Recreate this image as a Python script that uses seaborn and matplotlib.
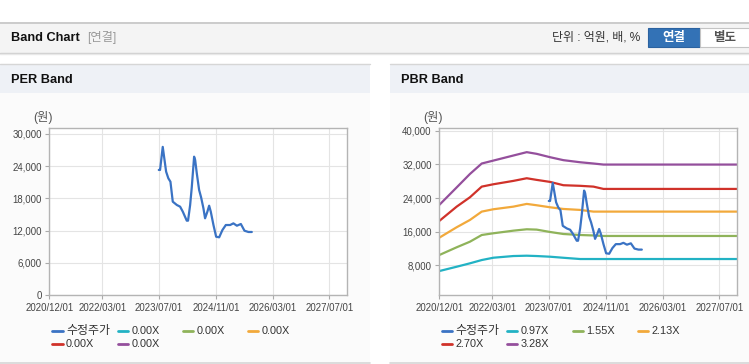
import numpy as np
import pandas as pd
import matplotlib
matplotlib.use("Agg")
import matplotlib.pyplot as plt
import matplotlib.dates as mdates
from matplotlib.patches import Rectangle
from matplotlib.lines import Line2D
import seaborn as sns

W, H = 749, 364

# 수정주가
price_dates = ["2023-06-28", "2023-07-09", "2023-08-01", "2023-08-30", "2023-09-18",
               "2023-10-06", "2023-10-26", "2023-11-30", "2023-12-28", "2024-01-20",
               "2024-02-23", "2024-03-05", "2024-03-23", "2024-04-06", "2024-04-26",
               "2024-05-05", "2024-05-19", "2024-06-08", "2024-06-25", "2024-07-15",
               "2024-07-29", "2024-08-18", "2024-09-02", "2024-09-16", "2024-10-09",
               "2024-11-01", "2024-11-27", "2024-12-25", "2025-01-23", "2025-03-01",
               "2025-03-29", "2025-04-28", "2025-06-01", "2025-07-02", "2025-08-05",
               "2025-09-03"]
price_values = [23300, 23300, 27600, 22980, 21740,
                21110, 17390, 16770, 16460, 15530,
                13850, 13850, 16770, 20070, 25770,
                25160, 22680, 19570, 18200, 16150,
                14290, 15530, 16640, 15530, 13040,
                10860, 10750, 12110, 13040, 13040,
                13350, 12910, 13230, 11980, 11740,
                11740]

# PBR band lines
band_dates = ["2020-12-01", "2021-04-29", "2021-08-21", "2021-11-30", "2022-03-10",
              "2022-08-28", "2022-12-21", "2023-03-16", "2023-07-09", "2023-10-31",
              "2024-03-23", "2024-07-15", "2024-10-09", "2027-12-01"]
band_097 = [6640, 7670, 8480, 9260, 9810, 10210, 10290, 10210, 10050, 9800, 9500, 9500, 9500, 9500]
band_155 = [10450, 12290, 13620, 15210, 15620, 16240, 16570, 16490, 15930, 15450, 15210, 15100, 14980, 14980]
band_213 = [14570, 17050, 18790, 20770, 21330, 21950, 22600, 22280, 21800, 21400, 21170, 20770, 20770, 20770]
band_270 = [18550, 21950, 24180, 26710, 27270, 28070, 28700, 28310, 27830, 27040, 26900, 26710, 26160, 26160]
band_328 = [22360, 26520, 29720, 32200, 32900, 34100, 34900, 34500, 33700, 33000, 32500, 32200, 31950, 31950]

per_labels = ["수정주가", "0.00X", "0.00X", "0.00X", "0.00X", "0.00X"]
pbr_labels = ["수정주가", "0.97X", "1.55X", "2.13X", "2.70X", "3.28X"]
colors = ["#3a73c4", "#22b2c4", "#8fb35a", "#f2a93b", "#d0322a", "#944f9c"]

x_ticks = ["2020-12-01", "2022-03-01", "2023-07-01", "2024-11-01", "2026-03-01", "2027-07-01"]
per_yticks = [0, 6000, 12000, 18000, 24000, 30000]
pbr_yticks = [8000, 16000, 24000, 32000, 40000]

price = pd.DataFrame({"date": pd.to_datetime(price_dates), "value": price_values})
bands = pd.DataFrame({"date": pd.to_datetime(band_dates), "0.97X": band_097, "1.55X": band_155,
                      "2.13X": band_213, "2.70X": band_270, "3.28X": band_328})

sns.set_theme(style="white")
plt.rcParams['font.family'] = ['Liberation Sans', 'Noto Sans CJK KR']

fig = plt.figure(figsize=(W / 100, H / 100), dpi=100)
fig.patch.set_facecolor("white")


def fx(x):
    return x / W


def fy(y):
    return 1 - y / H


def rect(x0, y0, x1, y1, **kw):
    kw.setdefault("zorder", -5)
    fig.patches.append(Rectangle((fx(x0), fy(y1)), (x1 - x0) / W, (y1 - y0) / H,
                                 transform=fig.transFigure, **kw))


def hline(x0, x1, y, color, lw=1.0):
    fig.add_artist(Line2D([fx(x0), fx(x1)], [fy(y), fy(y)], color=color, lw=lw,
                          transform=fig.transFigure, zorder=-4))


# top header bar
rect(0, 22.5, W, 53, facecolor="#f4f4f4", edgecolor="none")
hline(0, W, 22.5, "#c4c4c4", 1.2)
hline(0, W, 53.2, "#cfcfcf", 1.0)
hline(0, W, 54.2, "#e8e8e8", 1.0)
fig.text(fx(11), fy(38), "Band Chart", fontsize=9.2, fontweight="bold", color="#111",
         va="center", ha="left")
fig.text(fx(87), fy(38), "[연결]", fontsize=8.8, color="#999", va="center", ha="left")
fig.text(fx(552), fy(38), "단위 : 억원, 배, %", fontsize=8.6, color="#333", va="center", ha="left")
rect(648, 28.5, 700, 47, facecolor="#3372b6", edgecolor="#2b62a0", lw=0.8, zorder=-3)
rect(700, 28.5, 752, 47, facecolor="white", edgecolor="#c4c4c4", lw=0.8, zorder=-3)
fig.text(fx(674), fy(38), "연결", fontsize=9, fontweight="bold", color="white", va="center", ha="center")
fig.text(fx(725), fy(38), "별도", fontsize=9, fontweight="bold", color="#555", va="center", ha="center")

panels = [(0, 370, "PER Band"), (390, W, "PBR Band")]
for x0, x1, title in panels:
    rect(x0, 64, x1, 92.7, facecolor="#eef1f6", edgecolor="none")
    rect(x0, 92.7, x1, 362.5, facecolor="#fbfbfb", edgecolor="none")
    hline(x0, x1, 64, "#d6d6d6", 1.0)
    hline(x0, x1, 362.5, "#d6d6d6", 1.2)
    fig.text(fx(x0 + 11), fy(80), title, fontsize=9.2, fontweight="bold", color="#111",
             va="center", ha="left")

xt = pd.to_datetime(x_ticks)
xlim = (pd.Timestamp("2020-12-01"), pd.Timestamp("2027-12-01"))


def style_axes(ax, yticks, ylim):
    ax.set_facecolor("white")
    ax.set_xlim(xlim)
    ax.set_ylim(ylim)
    ax.set_xticks(xt)
    ax.xaxis.set_major_formatter(mdates.DateFormatter("%Y/%m/%d"))
    ax.set_yticks(yticks)
    ax.set_yticklabels([f"{v:,}" for v in yticks])
    ax.grid(True, color="#e4e4e4", lw=0.8)
    ax.set_axisbelow(True)
    for s in ax.spines.values():
        s.set_color("#b4b4b4")
        s.set_linewidth(1.0)
    ax.tick_params(axis="both", labelsize=6.9, colors="#aaaaaa", labelcolor="#444",
                   length=3, width=0.8, pad=2.5, bottom=True, left=True)
    ax.set_xlabel("")
    ax.set_ylabel("")


def draw_legend(x_base, labels):
    for i, (lab, col) in enumerate(zip(labels, colors)):
        r, c = divmod(i, 4)
        x = x_base + c * 65.3
        y = 330.7 + r * 13.4
        fig.add_artist(Line2D([fx(x), fx(x + 10)], [fy(y), fy(y)], color=col, lw=2,
                              transform=fig.transFigure))
        size = 8.6 if lab == "수정주가" else 7.8
        fig.text(fx(x + 13.5), fy(y), lab, fontsize=size, color="#333", va="center", ha="left")


# PER Band
ax1 = fig.add_axes([fx(49.3), fy(295), (347.3 - 49.3) / W, (295 - 128.3) / H])
sns.lineplot(data=price, x="date", y="value", ax=ax1, color=colors[0], linewidth=1.6)
style_axes(ax1, per_yticks, (0, 31060))
fig.text(fx(43), fy(117), "(원)", fontsize=8.8, color="#555", va="center", ha="center")
draw_legend(52.5, per_labels)

# PBR Band
ax2 = fig.add_axes([fx(439.3), fy(295), (737.3 - 439.3) / W, (295 - 128.3) / H])
for lab, col in zip(pbr_labels[1:], colors[1:]):
    sns.lineplot(data=bands, x="date", y=lab, ax=ax2, color=col, linewidth=1.6)
sns.lineplot(data=price, x="date", y="value", ax=ax2, color=colors[0], linewidth=1.6)
style_axes(ax2, pbr_yticks, (950, 40570))
fig.text(fx(433), fy(117), "(원)", fontsize=8.8, color="#555", va="center", ha="center")
draw_legend(442, pbr_labels)

fig.savefig("out.png", dpi=100)
